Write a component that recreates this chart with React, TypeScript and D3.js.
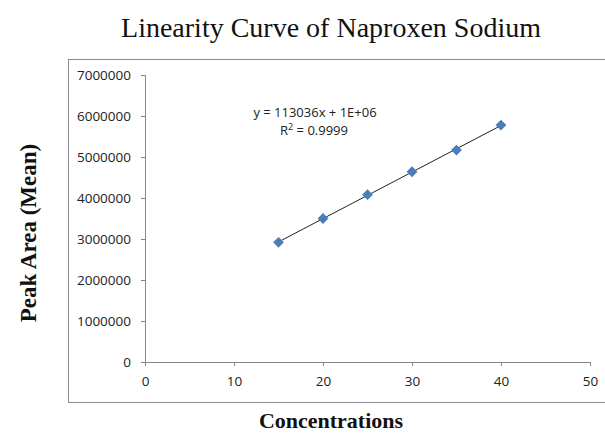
import React, { useEffect, useRef } from 'react'
import * as d3 from 'd3'

// Concentrations and mean peak areas
const concentrations = [15, 20, 25, 30, 35, 40]
const peakAreas = [2920000, 3500000, 4080000, 4640000, 5170000, 5780000]
const xTicks = [0, 10, 20, 30, 40, 50]
const yTicks = [0, 1000000, 2000000, 3000000, 4000000, 5000000, 6000000, 7000000]
const equationText = 'y = 113036x + 1E+06'
const rSquaredValue = '0.9999'

const W = 605
const H = 434

export default function App() {
  const svgRef = useRef<SVGSVGElement>(null)

  useEffect(() => {
    const svg = d3.select(svgRef.current)
    svg.selectAll('*').remove()

    const x = d3.scaleLinear().domain([0, 50]).range([145, 590])
    const y = d3.scaleLinear().domain([0, 7000000]).range([362, 75])

    // marco del gráfico
    svg.append('rect')
      .attr('x', 68.5).attr('y', 59.5)
      .attr('width', 560).attr('height', 343)
      .attr('fill', 'none').attr('stroke', '#8c8c8c').attr('stroke-width', 1)

    // título
    svg.append('text')
      .attr('x', 331).attr('y', 37)
      .attr('text-anchor', 'middle')
      .attr('font-family', '"Liberation Serif", serif')
      .attr('font-size', 28)
      .attr('fill', '#111')
      .text('Linearity Curve of Naproxen Sodium')

    // ejes
    const yAxis = svg.append('g')
      .attr('transform', `translate(${x(0)},0)`)
      .call(d3.axisLeft(y).tickValues(yTicks).tickSize(4).tickPadding(10).tickFormat(d => String(d)))
    const xAxis = svg.append('g')
      .attr('transform', `translate(0,${y(0)})`)
      .call(d3.axisBottom(x).tickValues(xTicks).tickSize(4).tickPadding(10).tickFormat(d => String(d)))

    for (const ax of [xAxis, yAxis]) {
      ax.select('.domain').attr('stroke', '#868686')
      ax.selectAll('.tick line').attr('stroke', '#868686')
      ax.selectAll('.tick text')
        .attr('font-family', '"Open Sans", sans-serif')
        .attr('font-size', 13.5)
        .attr('fill', '#222')
    }

    // línea de tendencia por mínimos cuadrados
    const mx = d3.mean(concentrations)!
    const my = d3.mean(peakAreas)!
    const slope = d3.sum(concentrations, (c, i) => (c - mx) * (peakAreas[i] - my)) /
      d3.sum(concentrations, c => (c - mx) ** 2)
    const intercept = my - slope * mx
    const x0 = d3.min(concentrations)!
    const x1 = d3.max(concentrations)!
    svg.append('line')
      .attr('x1', x(x0)).attr('y1', y(slope * x0 + intercept))
      .attr('x2', x(x1)).attr('y2', y(slope * x1 + intercept))
      .attr('stroke', '#222').attr('stroke-width', 1)

    // puntos
    svg.selectAll('path.pt')
      .data(concentrations)
      .join('path')
      .attr('class', 'pt')
      .attr('d', d3.symbol(d3.symbolSquare, 58)())
      .attr('transform', (d, i) => `translate(${x(d)},${y(peakAreas[i])}) rotate(45)`)
      .attr('fill', '#4a7ebb')

    // ecuación
    svg.append('text')
      .attr('x', 315).attr('y', 117)
      .attr('text-anchor', 'middle')
      .attr('font-family', '"Open Sans", sans-serif')
      .attr('font-size', 13)
      .attr('fill', '#222')
      .text(equationText)
    const r2 = svg.append('text')
      .attr('x', 314).attr('y', 135)
      .attr('text-anchor', 'middle')
      .attr('font-family', '"Open Sans", sans-serif')
      .attr('font-size', 13)
      .attr('fill', '#222')
    r2.append('tspan').text('R')
    r2.append('tspan').attr('dy', -5).attr('font-size', 9).text('2')
    r2.append('tspan').attr('dy', 5).text(` = ${rSquaredValue}`)

    // títulos de ejes
    svg.append('text')
      .attr('transform', 'translate(36,233) rotate(-90)')
      .attr('text-anchor', 'middle')
      .attr('font-family', '"Liberation Serif", serif')
      .attr('font-weight', 'bold')
      .attr('font-size', 23)
      .attr('fill', '#111')
      .text('Peak Area (Mean)')
    svg.append('text')
      .attr('x', 331).attr('y', 428)
      .attr('text-anchor', 'middle')
      .attr('font-family', '"Liberation Serif", serif')
      .attr('font-weight', 'bold')
      .attr('font-size', 22)
      .attr('fill', '#111')
      .text('Concentrations')
  }, [])

  return (
    <svg ref={svgRef} width={W} height={H}
      style={{ position: 'absolute', left: 0, top: 0, display: 'block', background: '#fff' }} />
  )
}
